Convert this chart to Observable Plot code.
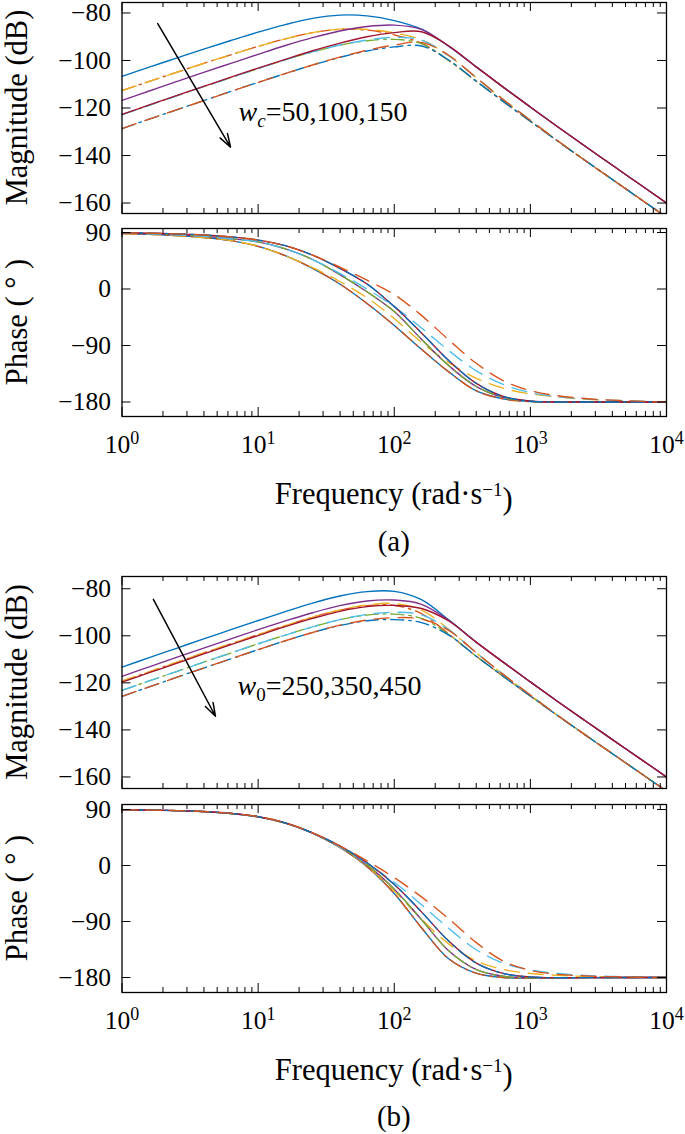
<!DOCTYPE html>
<html><head><meta charset="utf-8">
<script src="https://cdn.jsdelivr.net/npm/d3@7"></script>
<script src="https://cdn.jsdelivr.net/npm/@observablehq/plot@0.6"></script>
<style>
body{margin:0;background:#fff;}
#root{position:relative;width:685px;height:1134px;overflow:hidden;font-family:"Liberation Serif","DejaVu Serif",serif;}
.panel{position:absolute;left:0;}
#overlay{position:absolute;left:0;top:0;}
</style></head><body><div id="root"></div>
<script>
// ---------- data ----------
const freq = [1,1.585,2.512,3.981,6.31,10,15.85,25.12,39.81,63.1,100,158.5,251.2,398.1,631,1000,1585,2512,3981,6310,10000];
const xMajor = [1,10,100,1000,10000];
const xTickLabels = ["10^0","10^1","10^2","10^3","10^4"];
const xMinor = [2,3,4,5,6,7,8,9,20,30,40,50,60,70,80,90,200,300,400,500,600,700,800,900,2000,3000,4000,5000,6000,7000,8000,9000];
const magTicks = [-160,-140,-120,-100,-80];
const phaseTicks = [-180,-90,0,90];

// (a) w_c = 50,100,150 : magnitude (dB)
const a_mag1 = [-106.7,-102.8,-99.0,-95.2,-91.6,-88.1,-84.9,-82.3,-80.9,-81.2,-83.2,-86.8,-94.0,-102.6,-111.2,-119.6,-127.9,-136.0,-144.0,-152.0,-160.0];
const a_mag2 = [-112.7,-108.8,-105.0,-101.2,-97.6,-94.1,-90.9,-88.3,-86.9,-87.2,-89.2,-92.8,-100.0,-108.6,-117.2,-125.6,-133.9,-142.0,-150.0,-158.0,-166.0];
const a_mag3 = [-112.7,-108.8,-105.0,-101.2,-97.6,-94.1,-90.9,-88.3,-86.8,-86.9,-88.4,-91.3,-98.0,-107.1,-116.4,-125.2,-133.8,-142.0,-150.0,-158.0,-166.0];
const a_mag4 = [-116.8,-112.85,-108.9,-105.0,-101.2,-97.4,-93.7,-90.4,-87.6,-85.7,-85.1,-86.9,-94.0,-102.6,-111.2,-119.6,-127.9,-136.0,-144.0,-152.0,-160.0];
const a_mag5 = [-122.8,-118.85,-114.9,-111.0,-107.2,-103.4,-99.7,-96.4,-93.6,-91.7,-91.1,-92.9,-100.0,-108.6,-117.2,-125.6,-133.9,-142.0,-150.0,-158.0,-166.0];
const a_mag6 = [-122.8,-118.85,-114.9,-111.0,-107.2,-103.4,-99.7,-96.4,-93.5,-91.4,-90.3,-91.4,-98.0,-107.1,-116.4,-125.2,-133.8,-142.0,-150.0,-158.0,-166.0];
const a_mag7 = [-122.7,-118.7,-114.8,-110.9,-107.0,-103.2,-99.5,-95.9,-92.7,-90.0,-88.3,-87.9,-93.8,-102.6,-111.2,-119.6,-127.9,-136.0,-144.0,-152.0,-160.0];
const a_mag8 = [-128.7,-124.7,-120.8,-116.9,-113.0,-109.2,-105.5,-101.9,-98.7,-96.0,-94.3,-93.9,-99.8,-108.6,-117.2,-125.6,-133.9,-142.0,-150.0,-158.0,-166.0];
const a_mag9 = [-128.7,-124.7,-120.8,-116.9,-113.0,-109.2,-105.5,-101.9,-98.6,-95.7,-93.5,-92.4,-97.8,-107.1,-116.4,-125.2,-133.8,-142.0,-150.0,-158.0,-166.0];
// (a) phase (deg)
const a_ph1 = [88.5,87,85,82,77,68,53,33,8,-23,-58,-96,-132,-162,-175,-179.5,-180,-180,-180,-180,-180];
const a_ph3 = [88.5,87,85,82,77,68,53,34,12,-14,-47,-85,-117,-142,-158,-167,-172,-175.5,-177.6,-179,-180];
const a_ph4 = [89.2,87.9,86.2,83.8,80,75,64,47,23,-4.4,-36,-80,-122,-155,-172.5,-178.8,-180,-180,-180,-180,-180];
const a_ph6 = [89.2,87.9,86.2,83.8,80,75,64,47,25,0,-28,-62,-98,-130,-152,-165,-171.5,-175,-177.3,-178.8,-180];
const a_ph7 = [89.5,89,87.8,86,83,78,69,54,33,8,-28,-70,-114,-150,-171,-178.5,-180,-180,-180,-180,-180];
const a_ph9 = [89.5,89,87.8,86,83,78,69,54,35,14,-9,-42,-81,-118,-146,-162,-170,-174.5,-177,-178.7,-180];

// (b) w_0 = 250,350,450 : magnitude (dB)
const b_mag1 = [-113.3,-109.3,-105.3,-101.3,-97.4,-93.5,-89.7,-86.1,-83.1,-81.2,-81.1,-84.6,-93.2,-102.6,-111.2,-119.6,-127.9,-136.0,-144.0,-152.0,-160.0];
const b_mag2 = [-119.3,-115.3,-111.3,-107.3,-103.4,-99.5,-95.7,-92.1,-89.1,-87.2,-87.1,-90.6,-99.2,-108.6,-117.2,-125.6,-133.9,-142.0,-150.0,-158.0,-166.0];
const b_mag3 = [-119.3,-115.3,-111.3,-107.3,-103.4,-99.5,-95.7,-92.1,-89.0,-86.9,-86.3,-89.1,-97.2,-107.1,-116.4,-125.2,-133.8,-142.0,-150.0,-158.0,-166.0];
const b_mag4 = [-117.2,-113.2,-109.2,-105.2,-101.3,-97.4,-93.7,-90.2,-87.2,-85.2,-84.8,-86.6,-93.4,-102.6,-111.2,-119.6,-127.9,-136.0,-144.0,-152.0,-160.0];
const b_mag5 = [-123.2,-119.2,-115.2,-111.2,-107.3,-103.4,-99.7,-96.2,-93.2,-91.2,-90.8,-92.6,-99.4,-108.6,-117.2,-125.6,-133.9,-142.0,-150.0,-158.0,-166.0];
const b_mag6 = [-123.2,-119.2,-115.2,-111.2,-107.3,-103.4,-99.7,-96.2,-93.1,-90.9,-90.0,-91.1,-97.4,-107.1,-116.4,-125.2,-133.8,-142.0,-150.0,-158.0,-166.0];
const b_mag7 = [-119.7,-115.7,-111.7,-107.7,-103.8,-99.9,-96.1,-92.6,-89.6,-87.6,-87.1,-88.4,-93.7,-102.6,-111.2,-119.6,-127.9,-136.0,-144.0,-152.0,-160.0];
const b_mag8 = [-125.7,-121.7,-117.7,-113.7,-109.8,-105.9,-102.1,-98.6,-95.6,-93.6,-93.1,-94.4,-99.7,-108.6,-117.2,-125.6,-133.9,-142.0,-150.0,-158.0,-166.0];
const b_mag9 = [-125.7,-121.7,-117.7,-113.7,-109.8,-105.9,-102.1,-98.6,-95.5,-93.3,-92.3,-92.9,-97.7,-107.1,-116.4,-125.2,-133.8,-142.0,-150.0,-158.0,-166.0];
// (b) phase (deg)
const b_ph1 = [89.5,89,88.1,86.5,83.5,78,68,52,29,-2,-45,-100,-150,-173,-180,-180.8,-180.5,-180.2,-180,-180,-180];
const b_ph3 = [89.5,89,88.1,86.5,83.5,78,68,52,29,-1,-41,-86,-126,-153,-167,-173.5,-176.5,-178.2,-179.2,-179.7,-180];
const b_ph4 = [89.5,89,88.1,86.5,83.5,78,68,52,30,1,-38,-87,-137,-167,-178,-180.5,-180.4,-180.2,-180,-180,-180];
const b_ph6 = [89.5,89,88.1,86.5,83.5,78,68,52,30,3,-27,-63,-101,-135,-157,-168,-173.5,-176.5,-178.3,-179.3,-180];
const b_ph7 = [89.5,89,88.2,86.7,83.8,78.5,68.5,52.5,31.5,4.5,-30.5,-74.5,-121.5,-156.5,-173.5,-179,-180.3,-180.2,-180,-180,-180];
const b_ph9 = [89.5,89,88.2,86.7,83.8,78.5,68.5,52.5,31.5,7.5,-19.5,-50.5,-85.5,-123.5,-153.5,-168.5,-175,-177.5,-178.8,-179.6,-180];

// annotations (data units: frequency, dB)
const annotA = {f1: 1.83, v1: -84.5, f2: 6.27, v2: -136.5, ft: 7.18, vt: -121.8, label: "w|c|=50,100,150"};
const annotB = {f1: 1.70, v1: -84.5, f2: 4.86, v2: -134.2, ft: 7.06, vt: -121.5, label: "w|0|=250,350,450"};

// ---------- styling ----------
const colors = ["#0072BD","#D95319","#EDB120","#7E2F8E","#77AC30","#4DBEEE","#A2142F","#0072BD","#D95319"];
const styleOf = ["solid","dashdot","dashed","solid","dashdot","dashed","solid","dashdot","dashed"];
const DASH = {solid: null, dashdot: "13,5,2.5,5", dashed: "15,9"};
const FONT = "Liberation Serif, DejaVu Serif, serif";
const W = 685, FX0 = 121.5, FX1 = 666;
const NS = "http://www.w3.org/2000/svg";

const seriesA = [
  {mag: a_mag1, ph: a_ph1}, {mag: a_mag2, ph: a_ph1}, {mag: a_mag3, ph: a_ph3},
  {mag: a_mag4, ph: a_ph4}, {mag: a_mag5, ph: a_ph4}, {mag: a_mag6, ph: a_ph6},
  {mag: a_mag7, ph: a_ph7}, {mag: a_mag8, ph: a_ph7}, {mag: a_mag9, ph: a_ph9}
];
const seriesB = [
  {mag: b_mag1, ph: b_ph1}, {mag: b_mag2, ph: b_ph1}, {mag: b_mag3, ph: b_ph3},
  {mag: b_mag4, ph: b_ph4}, {mag: b_mag5, ph: b_ph4}, {mag: b_mag6, ph: b_ph6},
  {mag: b_mag7, ph: b_ph7}, {mag: b_mag8, ph: b_ph7}, {mag: b_mag9, ph: b_ph9}
];

const root = document.getElementById("root");

function makePanel(cfg) {
  const mt = cfg.mt ?? 6, mb = cfg.xLabels ? 50 : 6;
  const innerH = cfg.bottom - cfg.top;
  const innerW = FX1 - FX0;
  const marks = [];
  cfg.series.forEach((s, i) => {
    const vals = s[cfg.field];
    const rows = freq.map((f, j) => ({f, v: vals[j]}));
    marks.push(Plot.line(rows, {x: "f", y: "v", stroke: colors[i], strokeWidth: 1.35,
      strokeDasharray: DASH[styleOf[i]], curve: "catmull-rom", clip: true}));
  });
  marks.push(
    Plot.tickX(xMajor, {x: d => d, insetTop: innerH - 9, stroke: "#000", strokeWidth: 1}),
    Plot.tickX(xMajor, {x: d => d, insetBottom: innerH - 9, stroke: "#000", strokeWidth: 1}),
    Plot.tickX(xMinor, {x: d => d, insetTop: innerH - 5, stroke: "#000", strokeWidth: 1}),
    Plot.tickX(xMinor, {x: d => d, insetBottom: innerH - 5, stroke: "#000", strokeWidth: 1}),
    Plot.tickY(cfg.yTicks, {y: d => d, insetRight: innerW - 9, stroke: "#000", strokeWidth: 1}),
    Plot.tickY(cfg.yTicks, {y: d => d, insetLeft: innerW - 9, stroke: "#000", strokeWidth: 1}),
    Plot.frame({stroke: "#000", strokeWidth: 1.3}),
    Plot.axisY({ticks: cfg.yTicks, tickSize: 0, tickPadding: 11, fontSize: 25.5, fontFamily: FONT, label: null, fill: "#000"})
  );
  if (cfg.xLabels) {
    marks.push(Plot.axisX({ticks: xMajor, tickSize: 0, tickPadding: 18, fontSize: 25.5, fontFamily: FONT, label: null, fill: "#000",
      tickFormat: d => xTickLabels[xMajor.indexOf(d)]}));
  }
  if (cfg.annot) {
    const a = cfg.annot;
    marks.push(Plot.arrow([a], {x1: "f1", y1: "v1", x2: "f2", y2: "v2", stroke: "#000", strokeWidth: 1.5, headLength: 14, headAngle: 36}));
    marks.push(Plot.text([a], {x: "ft", y: "vt", text: "label", textAnchor: "start", lineAnchor: "middle", fontSize: 28, fontFamily: FONT, fill: "#000"}));
  }
  const svg = Plot.plot({
    width: W, height: mt + innerH + mb,
    marginLeft: FX0, marginRight: W - FX1, marginTop: mt, marginBottom: mb,
    x: {type: "log", domain: [1, 10000], axis: null},
    y: {domain: cfg.yDomain, axis: null},
    style: {background: "transparent", fontFamily: FONT, overflow: "visible", color: "#000"},
    marks
  });
  svg.querySelectorAll("text").forEach(t => {
    const s = t.textContent;
    if (s.includes("^")) {
      const [b, e] = s.split("^");
      t.textContent = "";
      const t1 = document.createElementNS(NS, "tspan"); t1.textContent = b; t.appendChild(t1);
      const t2 = document.createElementNS(NS, "tspan"); t2.textContent = e;
      t2.setAttribute("dy", "-0.5em"); t2.setAttribute("font-size", "18px"); t.appendChild(t2);
    } else if (s.includes("|")) {
      const [sym, sub, rest] = s.split("|");
      t.textContent = "";
      const t1 = document.createElementNS(NS, "tspan"); t1.textContent = sym; t1.setAttribute("font-style", "italic"); t.appendChild(t1);
      const t2 = document.createElementNS(NS, "tspan"); t2.textContent = sub;
      if (sub === "c") t2.setAttribute("font-style", "italic");
      t2.setAttribute("dy", "0.3em"); t2.setAttribute("font-size", "19px"); t.appendChild(t2);
      const t3 = document.createElementNS(NS, "tspan"); t3.textContent = rest; t3.setAttribute("dy", "-0.2em"); t.appendChild(t3);
    }
  });
  const d = document.createElement("div");
  d.className = "panel"; d.style.top = (cfg.top - mt) + "px";
  d.appendChild(svg); root.appendChild(d);
}

makePanel({series: seriesA, field: "mag", top: 2, bottom: 213, mt: 2, yDomain: [-164.4, -75.6], yTicks: magTicks, annot: annotA});
makePanel({series: seriesA, field: "ph", top: 228, bottom: 416, yDomain: [-203.1, 96.4], yTicks: phaseTicks, xLabels: true});
makePanel({series: seriesB, field: "mag", top: 576, bottom: 788, yDomain: [-164.9, -74.8], yTicks: magTicks, annot: annotB});
makePanel({series: seriesB, field: "ph", top: 804, bottom: 992, yDomain: [-204.1, 98], yTicks: phaseTicks, xLabels: true});

// axis titles and panel captions
const ov = document.createElementNS(NS, "svg");
ov.setAttribute("id", "overlay"); ov.setAttribute("width", W); ov.setAttribute("height", 1134);
ov.style.fontFamily = FONT; ov.setAttribute("fill", "#000");
function txt(x, y, parts, size, rotate) {
  const t = document.createElementNS(NS, "text");
  t.setAttribute("x", x); t.setAttribute("y", y); t.setAttribute("font-size", size);
  t.setAttribute("text-anchor", "middle");
  t.style.fontFamily = FONT;
  if (rotate) t.setAttribute("transform", `rotate(-90 ${x} ${y})`);
  parts.forEach(p => {
    const s = document.createElementNS(NS, "tspan"); s.textContent = p.t;
    if (p.dy) s.setAttribute("dy", p.dy);
    if (p.fs) s.setAttribute("font-size", p.fs);
    t.appendChild(s);
  });
  ov.appendChild(t);
}
const freqLabel = [{t: "Frequency (rad·s"}, {t: "−1", dy: "-0.42em", fs: "19px"}, {t: ")", dy: "0.42em"}];
txt(27, 107.5, [{t: "Magnitude (dB)"}], 30.5, true);
txt(27, 322, [{t: "Phase ( ° )"}], 30.5, true);
txt(393.8, 504, freqLabel, 30.5);
txt(393.8, 551, [{t: "(a)"}], 29);
txt(27, 682, [{t: "Magnitude (dB)"}], 30.5, true);
txt(27, 898, [{t: "Phase ( ° )"}], 30.5, true);
txt(393.8, 1080, freqLabel, 30.5);
txt(393.8, 1126, [{t: "(b)"}], 29);
root.appendChild(ov);
</script></body></html>
